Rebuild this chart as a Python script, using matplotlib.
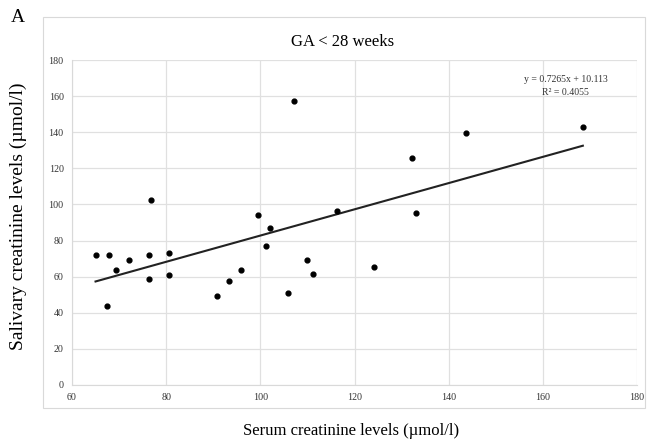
import matplotlib
matplotlib.use("Agg")
import matplotlib.pyplot as plt
import numpy as np
from matplotlib.patches import Rectangle

serum = [65.0, 67.5, 67.8, 69.3, 72.2, 76.3, 76.7, 76.3, 80.6, 80.5, 90.7, 93.3, 95.8,
         99.5, 101.3, 102.0, 105.8, 107.1, 110.0, 111.1, 116.3, 124.1, 132.2, 133.0,
         143.6, 168.5]
saliva = [72.0, 44.0, 72.0, 63.6, 69.0, 72.0, 102.2, 58.8, 72.9, 60.8, 49.5, 57.5, 63.6,
          94.1, 76.8, 87.0, 50.8, 157.5, 69.0, 61.5, 96.5, 65.2, 125.7, 95.4,
          139.3, 142.7]
slope = 0.7265
intercept = 10.113
r2 = 0.4055
x_ticks = [60, 80, 100, 120, 140, 160, 180]
y_ticks = [0, 20, 40, 60, 80, 100, 120, 140, 160, 180]

W, H = 648, 442
fig = plt.figure(figsize=(W / 100, H / 100), dpi=100)
serif = "Liberation Serif"

# outer chart border
fig.patches.append(Rectangle((43 / W, 1 - 408 / H), (645 - 43) / W, (408 - 17) / H,
                             transform=fig.transFigure, fill=False,
                             edgecolor="#d9d9d9", linewidth=0.8))

ax = fig.add_axes([72 / W, 1 - 385 / H, (637 - 72) / W, (385 - 60) / H])
ax.set_xlim(60, 180)
ax.set_ylim(0, 180)
ax.set_xticks(x_ticks)
ax.set_yticks(y_ticks)
ax.set_xticklabels([str(t) for t in x_ticks], fontfamily=serif, fontsize=7.2, color="#333333")
ax.set_yticklabels([str(t) for t in y_ticks], fontfamily=serif, fontsize=7.2, color="#333333")
ax.tick_params(length=0, pad=6)
ax.grid(True, color="#e0e0e0", linewidth=0.9)
ax.set_axisbelow(True)
for s in ax.spines.values():
    s.set_visible(False)
ax.spines["left"].set_visible(True)
ax.spines["left"].set_color("#d9d9d9")
ax.spines["bottom"].set_visible(True)
ax.spines["bottom"].set_color("#d9d9d9")

ax.scatter(serum, saliva, s=12, color="black", zorder=3)
xs = np.array([min(serum), max(serum)])
ax.plot(xs, slope * xs + intercept, color="#222222", linewidth=1.5, zorder=2)

ax.text(0.874, 0.921, f"y = {slope}x + {intercept}\nR² = {r2}", transform=ax.transAxes,
        ha="center", va="center", fontfamily=serif, fontsize=7, color="#333333",
        linespacing=1.55)

fig.text(343 / W, 1 - 42 / H, "GA < 28 weeks", ha="center", va="center",
         fontfamily=serif, fontsize=12)
fig.text(351 / W, 1 - 431 / H, "Serum creatinine levels (µmol/l)", ha="center", va="center",
         fontfamily=serif, fontsize=12)
fig.text(18 / W, 1 - 216 / H, "Salivary creatinine levels (µmol/l)", ha="center", va="center",
         rotation=90, fontfamily=serif, fontsize=14)
fig.text(18 / W, 1 - 18 / H, "A", ha="center", va="center", fontfamily=serif, fontsize=14)

fig.savefig("out.png", dpi=100)
